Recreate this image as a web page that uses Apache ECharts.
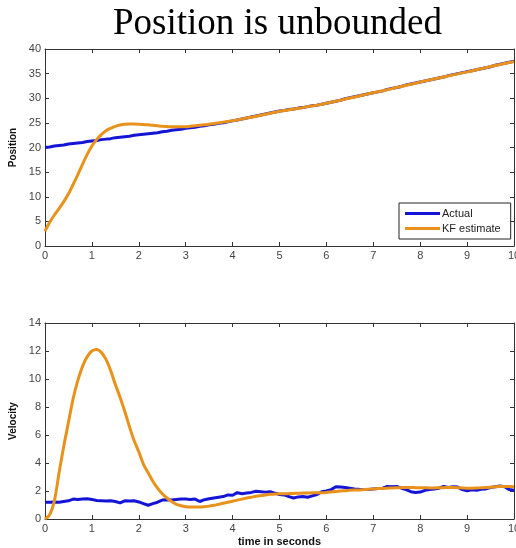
<!DOCTYPE html>
<html>
<head>
<meta charset="utf-8">
<script src="https://cdn.jsdelivr.net/npm/echarts@6/dist/echarts.min.js"></script>
<style>
  html, body { margin: 0; padding: 0; background: #fff; }
  #chart { width: 516px; height: 548px; }
</style>
</head>
<body>
<div id="chart"></div>
<script>
// Sample times (seconds)
const time = [
  0.0,0.1,0.2,0.3,0.4,0.5,0.6,0.7,0.8,0.9,
  1.0,1.1,1.2,1.3,1.4,1.5,1.6,1.7,1.8,1.9,
  2.0,2.1,2.2,2.3,2.4,2.5,2.6,2.7,2.8,2.9,
  3.0,3.1,3.2,3.3,3.4,3.5,3.6,3.7,3.8,3.9,
  4.0,4.1,4.2,4.3,4.4,4.5,4.6,4.7,4.8,4.9,
  5.0,5.1,5.2,5.3,5.4,5.5,5.6,5.7,5.8,5.9,
  6.0,6.1,6.2,6.3,6.4,6.5,6.6,6.7,6.8,6.9,
  7.0,7.1,7.2,7.3,7.4,7.5,7.6,7.7,7.8,7.9,
  8.0,8.1,8.2,8.3,8.4,8.5,8.6,8.7,8.8,8.9,
  9.0,9.1,9.2,9.3,9.4,9.5,9.6,9.7,9.8,9.9,
  10.0
];

// True position
const posActual = [
  20.0,20.1,20.3,20.4,20.5,20.7,20.8,20.9,21.0,21.2,
  21.3,21.4,21.6,21.7,21.8,22.0,22.1,22.2,22.3,22.5,
  22.6,22.7,22.8,22.9,23.0,23.2,23.3,23.5,23.6,23.7,
  23.9,24.0,24.1,24.3,24.4,24.6,24.7,24.9,25.0,25.2,
  25.4,25.6,25.8,26.0,26.2,26.4,26.6,26.8,27.0,27.2,
  27.4,27.5,27.7,27.8,28.0,28.1,28.3,28.5,28.6,28.8,
  29.0,29.2,29.4,29.6,29.9,30.1,30.3,30.5,30.7,30.9,
  31.1,31.3,31.5,31.8,32.0,32.2,32.4,32.7,32.9,33.1,
  33.3,33.5,33.7,33.9,34.1,34.3,34.6,34.8,35.0,35.2,
  35.4,35.6,35.8,36.0,36.2,36.4,36.7,36.9,37.1,37.3,
  37.5
];

// Kalman filter position estimate
const posKF = [
  3.0,4.8,6.3,7.6,9.0,10.6,12.5,14.5,16.6,18.6,
  20.3,21.6,22.6,23.4,23.9,24.3,24.55,24.7,24.75,24.75,
  24.7,24.65,24.6,24.5,24.4,24.3,24.25,24.2,24.2,24.2,
  24.2,24.3,24.4,24.5,24.6,24.7,24.85,25.0,25.15,25.3,
  25.45,25.6,25.8,26.0,26.15,26.35,26.55,26.75,26.95,27.15,
  27.35,27.5,27.65,27.8,27.95,28.1,28.3,28.45,28.6,28.8,
  29.0,29.2,29.4,29.6,29.85,30.05,30.25,30.45,30.7,30.9,
  31.1,31.3,31.5,31.75,31.95,32.2,32.4,32.65,32.85,33.05,
  33.3,33.5,33.7,33.9,34.1,34.3,34.55,34.75,34.95,35.15,
  35.35,35.55,35.8,36.0,36.2,36.45,36.65,36.85,37.05,37.25,
  37.45
];

// True velocity
const velActual = [
  1.2,1.2,1.22,1.2,1.25,1.3,1.42,1.4,1.43,1.45,
  1.4,1.32,1.3,1.28,1.3,1.25,1.15,1.3,1.28,1.3,
  1.22,1.1,0.98,1.1,1.2,1.35,1.38,1.35,1.4,1.42,
  1.42,1.4,1.42,1.25,1.38,1.45,1.5,1.55,1.6,1.72,
  1.7,1.88,1.8,1.85,1.9,1.98,1.95,1.92,1.95,1.85,
  1.75,1.72,1.6,1.5,1.58,1.6,1.55,1.65,1.75,1.95,
  2.0,2.1,2.3,2.28,2.25,2.2,2.15,2.12,2.1,2.1,
  2.15,2.18,2.2,2.33,2.3,2.32,2.2,2.1,1.95,1.9,
  1.92,2.05,2.1,2.15,2.2,2.32,2.25,2.3,2.28,2.1,
  2.02,2.08,2.05,2.12,2.15,2.25,2.3,2.35,2.3,2.1,
  2.05
];

// Kalman filter velocity estimate
const velKF = [
  0.0,0.3,1.3,3.3,5.2,6.9,8.6,9.9,10.9,11.6,
  12.0,12.1,11.9,11.4,10.6,9.6,8.7,7.7,6.6,5.6,
  4.8,3.9,3.3,2.7,2.2,1.8,1.5,1.25,1.05,0.95,
  0.88,0.85,0.85,0.85,0.88,0.92,0.98,1.05,1.12,1.2,
  1.27,1.35,1.42,1.5,1.56,1.62,1.67,1.72,1.76,1.78,
  1.8,1.8,1.82,1.83,1.84,1.85,1.86,1.87,1.87,1.88,
  1.9,1.93,1.96,2.0,2.02,2.05,2.07,2.08,2.1,2.12,
  2.15,2.17,2.18,2.2,2.22,2.23,2.24,2.25,2.25,2.24,
  2.23,2.23,2.22,2.22,2.23,2.24,2.25,2.25,2.24,2.22,
  2.2,2.2,2.21,2.23,2.25,2.27,2.3,2.32,2.33,2.32,
  2.3
];

const seriesNames = ['Actual', 'KF estimate'];
const xTicks = [0, 10, 1];
const posTicks = [0, 40, 5];
const velTicks = [0, 14, 2];

const BLUE = '#1414d6';
const ORANGE = '#e8921c';
const AXIS = '#333';
const LABEL = '#444';
const FONT = 'Liberation Sans, Arial';

const pairs = (xs, ys) => xs.map((x, i) => [x, ys[i]]);

function xAx(grid, pos, showLabels, name) {
  return {
    type: 'value', gridIndex: grid, position: pos,
    min: xTicks[0], max: xTicks[1], interval: xTicks[2],
    axisLine: { show: true, onZero: false, lineStyle: { color: AXIS, width: 1 } },
    axisTick: { show: true, inside: true, length: 4, lineStyle: { color: AXIS } },
    axisLabel: { show: showLabels, color: LABEL, fontSize: 11, fontFamily: FONT, margin: 4 },
    splitLine: { show: false },
    name: name || '', nameLocation: 'middle', nameGap: 17,
    nameTextStyle: { fontWeight: 'bold', fontSize: 11, color: '#111', fontFamily: FONT }
  };
}

function yAx(grid, pos, ticks, showLabels, name) {
  return {
    type: 'value', gridIndex: grid, position: pos,
    min: ticks[0], max: ticks[1], interval: ticks[2],
    axisLine: { show: true, onZero: false, lineStyle: { color: AXIS, width: 1 } },
    axisTick: { show: true, inside: true, length: 4, lineStyle: { color: AXIS } },
    axisLabel: { show: showLabels, color: LABEL, fontSize: 11, fontFamily: FONT, margin: 4 },
    splitLine: { show: false },
    name: name || '', nameLocation: 'middle', nameGap: 24, nameRotate: 90,
    nameTextStyle: { fontWeight: 'bold', fontSize: 10, color: '#111', fontFamily: FONT }
  };
}

function line(name, xi, yi, data, color, smooth) {
  return {
    name, type: 'line', xAxisIndex: xi, yAxisIndex: yi, data,
    showSymbol: false, smooth: smooth, animation: false,
    lineStyle: { color, width: 3 }, itemStyle: { color }
  };
}

const chart = echarts.init(document.getElementById('chart'), null, { renderer: 'canvas' });
chart.setOption({
  backgroundColor: '#fff',
  animation: false,
  title: {
    text: 'Position is unbounded', left: 108, top: 1,
    textStyle: { fontFamily: 'Liberation Serif, Times New Roman', fontWeight: 'normal', fontSize: 37, color: '#000' }
  },
  legend: {
    data: seriesNames, orient: 'vertical', left: 399, top: 203,
    icon: 'rect', itemWidth: 35, itemHeight: 3, itemGap: 4,
    padding: [5, 10, 5, 6], borderColor: '#222', borderWidth: 1, backgroundColor: '#fff',
    textStyle: { fontSize: 11, color: '#222', fontFamily: FONT, padding: [0, 0, 0, -3] }
  },
  grid: [
    { left: 45, top: 49, width: 469, height: 197, outerBoundsMode: 'none', containLabel: false },
    { left: 45, top: 323, width: 469, height: 196, outerBoundsMode: 'none', containLabel: false }
  ],
  xAxis: [
    xAx(0, 'bottom', true),
    xAx(1, 'bottom', true, 'time in seconds'),
    xAx(0, 'top', false),
    xAx(1, 'top', false)
  ],
  yAxis: [
    yAx(0, 'left', posTicks, true, 'Position'),
    yAx(1, 'left', velTicks, true, 'Velocity'),
    yAx(0, 'right', posTicks, false),
    yAx(1, 'right', velTicks, false)
  ],
  series: [
    line(seriesNames[0], 0, 0, pairs(time, posActual), BLUE, false),
    line(seriesNames[1], 0, 0, pairs(time, posKF), ORANGE, 0.3),
    line(seriesNames[0], 1, 1, pairs(time, velActual), BLUE, false),
    line(seriesNames[1], 1, 1, pairs(time, velKF), ORANGE, 0.3)
  ]
});
</script>
</body>
</html>
